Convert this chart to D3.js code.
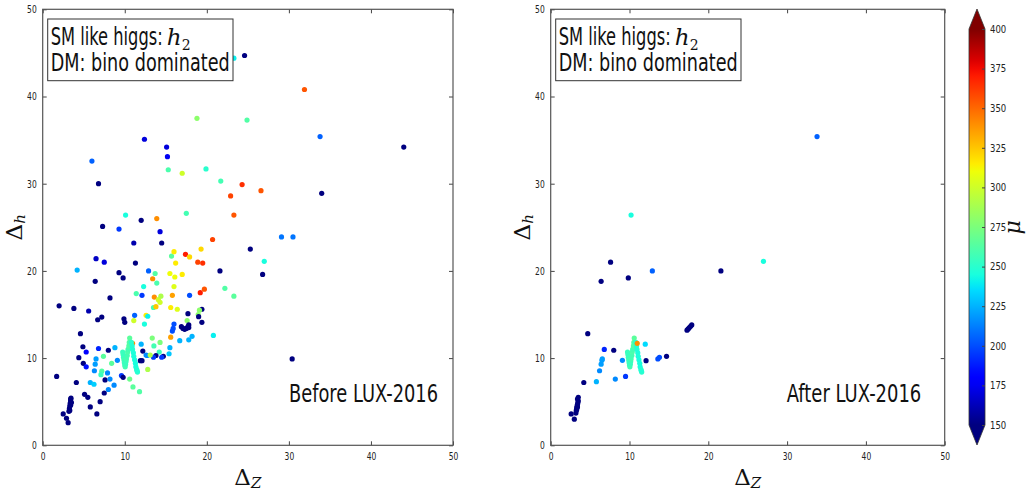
<!DOCTYPE html>
<html lang="en">
<head>
<meta charset="UTF-8">
<title>Delta_h vs Delta_Z before / after LUX-2016</title>
<script src="https://d3js.org/d3.v7.min.js"></script>
<style>
  body { margin: 0; padding: 0; background: #fff; }
  .tick text { font-family: "DejaVu Sans", sans-serif; fill: #222; }
  .tick line { stroke: #444; }
</style>
</head>
<body>
<div id="chart"></div>
<script>
// tick values
const xTicks = [0, 10, 20, 30, 40, 50];
const yTicks = [0, 10, 20, 30, 40, 50];
const cbTicks = [150, 175, 200, 225, 250, 275, 300, 325, 350, 375, 400];

// [Delta_Z, Delta_h, mu]
// the "W" shaped cyan clump at Delta_Z ~ 10-11.5, present in both panels
const wCluster = [
  [9.75, 10.7, 255], [9.8, 10.4, 255], [9.85, 10.1, 255], [9.9, 9.8, 258], [9.95, 9.5, 255],
  [10.0, 9.2, 255], [10.05, 9.0, 258], [10.1, 9.3, 255], [10.15, 9.6, 255], [10.2, 9.9, 258],
  [10.3, 10.3, 258], [10.35, 10.7, 260], [10.4, 11.0, 258], [10.5, 11.4, 262], [10.55, 11.8, 262],
  [10.6, 12.3, 265], [10.8, 11.8, 250], [10.9, 11.4, 248], [10.95, 11.0, 248], [11.05, 10.6, 246],
  [11.1, 10.2, 246], [11.2, 9.8, 245], [11.3, 9.4, 245], [11.35, 9.0, 245], [11.45, 8.7, 248],
  [11.55, 8.4, 250], [11.5, 8.55, 248]
];

const before = [
  [23.3, 44.4, 240], [24.6, 44.7, 140], [31.9, 40.8, 355], [18.8, 37.5, 280], [24.9, 37.3, 262],
  [33.8, 35.4, 205], [44.0, 34.2, 140], [12.4, 35.1, 170], [15.1, 34.2, 170], [15.2, 33.1, 175],
  [6.0, 32.6, 205], [6.8, 30.0, 140], [15.3, 31.6, 260], [17.0, 31.2, 300], [19.9, 31.7, 250],
  [21.7, 30.3, 258], [24.3, 29.9, 365], [22.9, 28.6, 360], [26.6, 29.2, 355], [34.0, 28.9, 140],
  [10.1, 26.4, 245], [12.0, 25.8, 140], [13.9, 26.0, 340], [17.5, 26.6, 258], [23.3, 26.4, 355],
  [7.3, 25.1, 140], [9.3, 24.8, 195], [14.3, 24.5, 170], [20.7, 23.6, 360], [29.1, 23.9, 210],
  [30.5, 23.9, 210], [11.1, 23.2, 160], [14.5, 23.2, 140], [19.3, 22.5, 320], [25.3, 22.5, 140],
  [15.7, 21.7, 265], [16.0, 22.2, 315], [17.4, 21.9, 370], [17.9, 21.6, 320], [16.2, 20.9, 315],
  [18.9, 21.0, 360], [19.5, 20.9, 365], [27.0, 21.1, 245], [21.6, 20.0, 140], [26.8, 19.6, 140],
  [6.5, 21.4, 165], [7.5, 21.0, 170], [11.3, 20.9, 140], [4.2, 20.1, 225], [9.3, 19.8, 140],
  [9.8, 19.2, 140], [12.9, 20.0, 205], [13.7, 19.7, 262], [13.9, 18.6, 260], [13.4, 19.1, 340],
  [15.5, 19.7, 310], [16.1, 19.3, 310], [17.0, 19.6, 315], [16.0, 18.2, 305], [12.3, 18.2, 245],
  [6.4, 18.8, 140], [8.2, 16.9, 140], [12.1, 17.2, 195], [11.4, 17.4, 260], [13.6, 17.0, 340],
  [14.1, 16.7, 300], [14.3, 16.4, 300], [14.4, 17.1, 290], [15.8, 17.2, 335], [17.9, 17.2, 200],
  [19.2, 17.5, 370], [19.7, 17.9, 355], [22.2, 18.0, 262], [23.3, 17.1, 265],
  [2.0, 16.0, 140], [3.8, 15.7, 140], [5.6, 15.4, 160], [13.5, 15.8, 258], [13.8, 15.9, 325],
  [15.6, 15.8, 315], [16.4, 15.6, 305], [17.7, 15.1, 140], [19.4, 15.6, 140], [19.1, 15.5, 280],
  [18.95, 15.0, 280], [19.0, 14.75, 140], [6.7, 14.4, 140], [7.2, 14.7, 140], [9.9, 14.5, 140],
  [10.0, 14.1, 140], [11.2, 14.9, 205], [11.1, 14.3, 300], [12.6, 14.9, 315], [12.8, 14.8, 240],
  [12.4, 13.9, 245], [19.4, 14.1, 140], [17.6, 14.3, 280], [16.0, 13.9, 200], [15.9, 13.4, 200],
  [15.8, 13.1, 200], [16.9, 13.6, 140], [17.1, 13.4, 150], [17.3, 13.3, 140], [17.5, 13.4, 150],
  [17.7, 13.6, 140], [17.8, 13.8, 140], [17.8, 13.5, 140],
  [15.6, 12.4, 335], [16.7, 12.0, 225], [17.8, 12.1, 225], [18.2, 12.5, 225], [20.8, 12.6, 240],
  [30.4, 9.9, 140],
  [4.6, 12.8, 140], [4.9, 11.3, 140], [5.3, 10.7, 180], [4.4, 10.05, 140], [4.95, 9.4, 140],
  [5.3, 9.0, 185], [1.7, 7.9, 140], [4.1, 7.2, 140], [6.8, 11.1, 190], [8.0, 10.9, 140],
  [8.8, 11.2, 225], [6.5, 9.9, 220], [6.4, 9.3, 220], [6.3, 8.55, 215], [7.4, 10.2, 265],
  [8.4, 9.4, 265], [9.1, 9.75, 215], [7.2, 8.5, 262], [7.1, 8.1, 255], [7.9, 8.3, 215],
  [5.8, 7.2, 225], [6.25, 7.0, 232], [7.6, 7.5, 140], [8.2, 7.6, 215], [8.7, 6.9, 215],
  [8.0, 6.4, 215], [7.5, 6.0, 140], [7.0, 5.0, 140], [5.1, 5.85, 140], [5.5, 5.5, 140],
  [5.8, 4.4, 140], [6.6, 3.6, 140],
  [3.2, 3.9, 140], [3.25, 4.2, 140], [3.3, 4.5, 140], [3.35, 4.8, 140], [3.4, 5.1, 140],
  [3.45, 5.4, 140], [3.3, 4.0, 140], [3.4, 4.6, 140], [3.5, 4.9, 140], [3.4, 5.3, 140],
  [2.5, 3.6, 140], [2.9, 3.1, 140], [3.1, 2.6, 140],
  [10.95, 11.7, 340], [12.0, 11.6, 225], [12.2, 10.8, 140], [11.9, 9.7, 140], [12.1, 9.7, 140],
  [12.8, 8.7, 290], [10.6, 7.6, 270], [11.0, 6.7, 265], [11.8, 6.15, 262], [9.6, 8.0, 195],
  [9.8, 7.8, 140], [13.35, 12.3, 275], [14.3, 11.8, 275], [13.55, 11.4, 258], [14.2, 10.7, 255],
  [15.5, 11.2, 225], [15.4, 10.5, 230], [13.8, 10.3, 140], [13.5, 10.1, 195], [12.6, 10.35, 215],
  [12.75, 10.3, 215], [14.7, 10.2, 140], [14.5, 10.1, 195], [13.1, 10.35, 290]
].concat(wCluster);

const after = [
  [10.2, 26.4, 245], [33.8, 35.4, 205], [6.4, 18.8, 140], [7.6, 21.0, 140], [9.85, 19.2, 140],
  [12.9, 20.0, 205], [21.6, 20.0, 140], [27.0, 21.1, 245],
  [4.7, 12.8, 140], [6.8, 11.0, 190], [8.0, 10.9, 140], [6.55, 9.9, 220], [6.5, 9.75, 220],
  [6.4, 9.3, 220], [6.2, 8.55, 215], [5.8, 7.3, 225], [4.2, 7.2, 140], [8.2, 7.6, 215],
  [9.5, 7.9, 195], [9.1, 9.75, 215], [12.1, 9.7, 140], [12.0, 11.6, 235], [13.6, 9.9, 200],
  [13.8, 10.1, 200], [14.7, 10.2, 140],
  [17.3, 13.2, 140], [17.45, 13.35, 140], [17.6, 13.5, 140], [17.75, 13.65, 140], [17.9, 13.8, 140],
  [3.2, 3.7, 140], [3.25, 4.0, 140], [3.3, 4.3, 140], [3.35, 4.5, 140], [3.4, 4.7, 140],
  [3.45, 4.9, 140], [3.5, 5.1, 140], [3.4, 5.3, 140], [3.5, 5.5, 140], [3.3, 4.1, 140],
  [3.4, 4.4, 140], [2.6, 3.6, 140], [3.0, 3.0, 140]
].concat(wCluster).concat([[10.98, 11.7, 340]]);

// matplotlib "jet" colormap built from linear scales
const jr = d3.scaleLinear().domain([0, 0.35, 0.66, 0.89, 1]).range([0, 0, 1, 1, 0.5]);
const jg = d3.scaleLinear().domain([0, 0.125, 0.375, 0.64, 0.91, 1]).range([0, 0, 1, 1, 0, 0]);
const jb = d3.scaleLinear().domain([0, 0.11, 0.34, 0.65, 1]).range([0.5, 1, 1, 0, 0]);
function jet(t) {
  return d3.rgb(jr(t) * 255, jg(t) * 255, jb(t) * 255).formatHex();
}
const muScale = d3.scaleLinear().domain([150, 400]).range([0, 1]).clamp(true);

const width = 1026, height = 492;
const svg = d3.select("#chart").append("svg")
  .attr("width", width).attr("height", height)
  .style("font-family", "DejaVu Sans, sans-serif");

const plotTop = 9.3, plotBottom = 445.3;

const panels = [
  {left: 42.7, right: 453, pts: before, tag: "Before LUX-2016", tagX: 289, tagW: 149, yLabX: 22},
  {left: 550.7, right: 944.7, pts: after, tag: "After LUX-2016", tagX: 786.7, tagW: 134.6, yLabX: 530}
];

function squeeze(sel, perChar) {
  sel.attr("textLength", function() { return this.textContent.length * perChar; })
     .attr("lengthAdjust", "spacingAndGlyphs");
}

panels.forEach(p => {
  const x = d3.scaleLinear().domain([0, 50]).range([p.left, p.right]);
  const y = d3.scaleLinear().domain([0, 50]).range([plotBottom, plotTop]);
  const g = svg.append("g");

  // points
  g.append("g").selectAll("circle")
    .data(p.pts)
    .join("circle")
      .attr("cx", d => x(d[0]))
      .attr("cy", d => y(d[1]))
      .attr("r", 2.6)
      .attr("fill", d => jet(muScale(d[2])));

  // axes, ticks pointing inward on all sides
  const xb = g.append("g").attr("transform", `translate(0,${plotBottom})`)
    .call(d3.axisBottom(x).tickValues(xTicks).tickSizeInner(-4).tickSizeOuter(0).tickPadding(7));
  const xt = g.append("g").attr("transform", `translate(0,${plotTop})`)
    .call(d3.axisTop(x).tickValues(xTicks).tickSizeInner(-4).tickSizeOuter(0).tickFormat(""));
  const yl = g.append("g").attr("transform", `translate(${p.left},0)`)
    .call(d3.axisLeft(y).tickValues(yTicks).tickSizeInner(-4).tickSizeOuter(0).tickPadding(6));
  const yr = g.append("g").attr("transform", `translate(${p.right},0)`)
    .call(d3.axisRight(y).tickValues(yTicks).tickSizeInner(-4).tickSizeOuter(0).tickFormat(""));
  [xb, xt, yl, yr].forEach(a => a.select(".domain").remove());
  g.selectAll(".tick text").attr("font-size", 10.5).call(squeeze, 4.8);

  // frame
  g.append("rect")
    .attr("x", p.left).attr("y", plotTop)
    .attr("width", p.right - p.left).attr("height", plotBottom - plotTop)
    .attr("fill", "none").attr("stroke", "#555").attr("stroke-width", 1.2);

  // legend-like text box
  const bx = p.left + 5;
  g.append("rect")
    .attr("x", bx).attr("y", 19).attr("width", 185.3).attr("height", 61.7)
    .attr("fill", "#fff").attr("stroke", "#333").attr("stroke-width", 1);
  g.append("text").attr("x", bx + 3).attr("y", 45).attr("font-size", 25).attr("fill", "#111")
    .attr("textLength", 112).attr("lengthAdjust", "spacingAndGlyphs")
    .text("SM like higgs:");
  g.append("text").attr("x", bx + 119).attr("y", 45).attr("fill", "#111")
    .attr("font-family", "DejaVu Serif, serif").attr("font-size", 23).attr("font-style", "italic")
    .text("h");
  g.append("text").attr("x", bx + 134).attr("y", 50).attr("fill", "#111")
    .attr("font-family", "DejaVu Serif, serif").attr("font-size", 14)
    .text("2");
  g.append("text").attr("x", bx + 3).attr("y", 71).attr("font-size", 25).attr("fill", "#111")
    .attr("textLength", 179).attr("lengthAdjust", "spacingAndGlyphs")
    .text("DM: bino dominated");

  // panel tag
  g.append("text").attr("x", p.tagX).attr("y", 402).attr("font-size", 24).attr("fill", "#111")
    .attr("textLength", p.tagW).attr("lengthAdjust", "spacingAndGlyphs")
    .text(p.tag);

  // axis labels
  const xl = g.append("text")
    .attr("x", (p.left + p.right) / 2).attr("y", 485)
    .attr("text-anchor", "middle").attr("font-family", "DejaVu Serif, serif").attr("fill", "#111");
  xl.append("tspan").attr("font-size", 23).text("\u0394");
  xl.append("tspan").attr("font-size", 15).attr("font-style", "italic").attr("dy", 3).text("Z");

  const ylb = g.append("text")
    .attr("transform", `translate(${p.yLabX},${(plotTop + plotBottom) / 2}) rotate(-90)`)
    .attr("text-anchor", "middle").attr("font-family", "DejaVu Serif, serif").attr("fill", "#111");
  ylb.append("tspan").attr("font-size", 23).text("\u0394");
  ylb.append("tspan").attr("font-size", 15).attr("font-style", "italic").attr("dy", 3).text("h");
});

// colorbar
const cbL = 969, cbR = 985, cbTop = 29, cbBot = 425;
const cbY = d3.scaleLinear().domain([150, 400]).range([cbBot, cbTop]);
const defs = svg.append("defs");
const grad = defs.append("linearGradient").attr("id", "jetgrad")
  .attr("x1", 0).attr("y1", 1).attr("x2", 0).attr("y2", 0);
grad.selectAll("stop")
  .data(d3.range(0, 1.0001, 0.02))
  .join("stop")
    .attr("offset", d => d)
    .attr("stop-color", d => jet(d));

const cb = svg.append("g");
cb.append("rect")
  .attr("x", cbL).attr("y", cbTop).attr("width", cbR - cbL).attr("height", cbBot - cbTop)
  .attr("fill", "url(#jetgrad)");
cb.append("path")
  .attr("d", `M${cbL},${cbTop} L${(cbL + cbR) / 2},9 L${cbR},${cbTop} Z`)
  .attr("fill", jet(1));
cb.append("path")
  .attr("d", `M${cbL},${cbBot} L${(cbL + cbR) / 2},445 L${cbR},${cbBot} Z`)
  .attr("fill", jet(0));
cb.append("path")
  .attr("d", `M${cbL},${cbBot} L${cbL},${cbTop} L${(cbL + cbR) / 2},9 L${cbR},${cbTop} L${cbR},${cbBot} L${(cbL + cbR) / 2},445 Z`)
  .attr("fill", "none").attr("stroke", "#333").attr("stroke-width", 0.8);

const cbAxis = cb.append("g").attr("transform", `translate(${cbR},0)`)
  .call(d3.axisRight(cbY).tickValues(cbTicks).tickSizeInner(-3).tickSizeOuter(0).tickPadding(5));
cbAxis.select(".domain").remove();
cbAxis.selectAll(".tick line").attr("stroke", "#222");
cbAxis.selectAll(".tick text").attr("font-size", 10.5).call(squeeze, 5.4);

svg.append("text")
  .attr("transform", `translate(1020,${(plotTop + plotBottom) / 2}) rotate(-90)`)
  .attr("text-anchor", "middle")
  .attr("font-family", "DejaVu Serif, serif").attr("font-style", "italic")
  .attr("font-size", 22).attr("fill", "#111")
  .text("\u03bc");
</script>
</body>
</html>
